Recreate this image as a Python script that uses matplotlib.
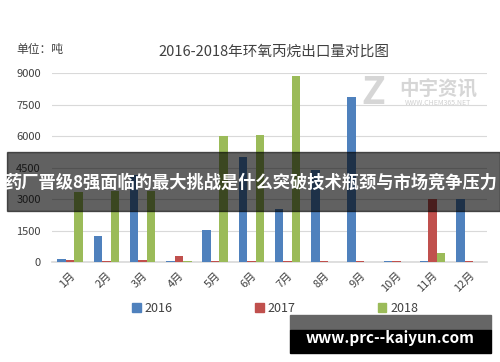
import matplotlib
matplotlib.use("Agg")
import matplotlib.pyplot as plt
import matplotlib.patches as mpatches
import numpy as np

plt.rcParams['font.family'] = ['Noto Sans CJK SC', 'DejaVu Sans']

months = ['1月', '2月', '3月', '4月', '5月', '6月', '7月', '8月', '9月', '10月', '11月', '12月']
v2016 = [160, 1240, 4150, 50, 1520, 5000, 2510, 4410, 7870, 30, 30, 3000]
v2017 = [100, 50, 100, 280, 50, 50, 50, 50, 50, 30, 3020, 50]
v2018 = [3350, 3400, 3380, 50, 6000, 6050, 8860, 0, 0, 0, 415, 0]
years = ['2016', '2017', '2018']
colors = ['#4F81BD', '#C0504D', '#9BBB59']
yticks = [0, 1500, 3000, 4500, 6000, 7500, 9000]

fig = plt.figure(figsize=(5, 3.62), dpi=100)
ax = fig.add_axes([52 / 500, 1 - 262 / 362, 435 / 500, (262 - 73.3) / 362])

x = np.arange(len(months))
w = 0.235
for i, (vals, c) in enumerate(zip([v2016, v2017, v2018], colors)):
    ax.bar(x + (i - 1) * w, vals, w, color=c, label=years[i], zorder=3)

ax.set_xlim(-0.5, len(months) - 0.5)
ax.set_ylim(0, 9000)
ax.set_yticks(yticks)
ax.set_yticklabels([str(t) for t in yticks], fontsize=8, color='#404040')
ax.set_xticks(x)
ax.set_xticklabels(months, rotation=45, fontsize=8, color='#404040', ha='right',
                   rotation_mode='anchor')
ax.tick_params(length=0, pad=8)
ax.tick_params(axis='x', pad=6)
ax.grid(axis='y', color='#D9D9D9', linewidth=0.8, zorder=0)
for s in ['top', 'right', 'left']:
    ax.spines[s].set_visible(False)
ax.spines['bottom'].set_color('#D9D9D9')
ax.spines['bottom'].set_linewidth(1.2)

fig.text(274 / 500, 1 - 52 / 362, '2016-2018年环氧丙烷出口量对比图', fontsize=10.5,
         color='#404040', ha='center', va='center')
fig.text(16 / 500, 1 - 50 / 362, '单位：吨', fontsize=8.5, color='#404040',
         ha='left', va='center')

handles = [mpatches.Patch(color=c) for c in colors]
fig.legend(handles, years, loc='center', bbox_to_anchor=(0.55, 1 - 308 / 362), ncol=3,
           frameon=False, fontsize=9, handlelength=0.7, handleheight=0.7,
           handletextpad=0.3, columnspacing=6.6, labelcolor='#404040')

# watermark
fig.text(373 / 500, 1 - 92 / 362, 'Z', fontsize=28, fontweight='bold', color='#BBBBBB',
         alpha=0.6, ha='center', va='center', style='italic')
fig.text(438 / 500, 1 - 89 / 362, '中宇资讯', fontsize=14, fontweight='bold',
         color='#BBBBBB', alpha=0.6, ha='center', va='center')
fig.text(438 / 500, 1 - 103 / 362, 'WWW.CHEM365.NET', fontsize=5, color='#BBBBBB',
         alpha=0.7, ha='center', va='center')

# overlay banner
fig.patches.append(mpatches.Rectangle((7 / 500, 1 - 211 / 362), 493 / 500, 59 / 362,
                                      transform=fig.transFigure, color='black',
                                      alpha=0.62, zorder=10))
fig.text(251 / 500, 1 - 183 / 362, '药厂晋级8强面临的最大挑战是什么突破技术瓶颈与市场竞争压力',
         fontsize=12.4, fontweight='bold', color='white', ha='center', va='center', zorder=11)

# bottom-right site banner
fig.patches.append(mpatches.Rectangle((290 / 500, 1 - 330 / 362), 201 / 500, 15 / 362,
                                      transform=fig.transFigure, color='#666666', zorder=10))
fig.patches.append(mpatches.Rectangle((290 / 500, 1 - 353 / 362), 201 / 500, 23 / 362,
                                      transform=fig.transFigure, color='black', zorder=10))
fig.text(390 / 500, 1 - 338 / 362, 'www.prc--kaiyun.com', fontsize=11, fontweight='bold',
         color='white', ha='center', va='center', zorder=11)

fig.savefig('out.png', dpi=100)
